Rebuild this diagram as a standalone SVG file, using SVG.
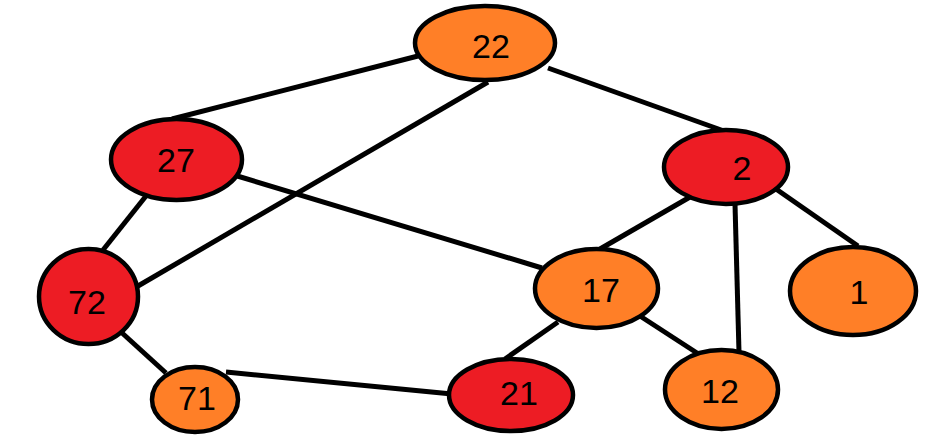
<svg xmlns="http://www.w3.org/2000/svg" width="940" height="440" viewBox="0 0 940 440">
<style>
.e{stroke:#000;stroke-width:5;stroke-linecap:butt}
.n{stroke:#000;stroke-width:4.5}
.o{fill:#FF7F27}
.r{fill:#ED1C24}
.t{font-family:"Liberation Sans",Arial,sans-serif;font-size:34px;fill:#000;text-anchor:middle}
</style>
<rect width="940" height="440" fill="#fff"/>
<g id="edges">
<line class="e" x1="418" y1="56" x2="172" y2="119"/>
<line class="e" x1="548" y1="68" x2="724" y2="131"/>
<line class="e" x1="488" y1="82" x2="138" y2="286"/>
<line class="e" x1="234" y1="175" x2="542" y2="268"/>
<line class="e" x1="146" y1="196" x2="103" y2="250"/>
<line class="e" x1="690" y1="197" x2="600" y2="249"/>
<line class="e" x1="735" y1="204" x2="739" y2="352"/>
<line class="e" x1="776" y1="189" x2="858" y2="246"/>
<line class="e" x1="558" y1="322" x2="505" y2="359"/>
<line class="e" x1="640" y1="316" x2="697" y2="353"/>
<line class="e" x1="121" y1="332" x2="166" y2="373"/>
<line class="e" x1="226" y1="372" x2="452" y2="394"/>
</g>
<g id="n22"><ellipse class="n o" cx="485" cy="43" rx="70" ry="37"/><text class="t" x="491" y="58">22</text></g>
<g id="n27"><ellipse class="n r" cx="176.5" cy="159.5" rx="65.5" ry="40.5"/><text class="t" x="176" y="172">27</text></g>
<g id="n2"><ellipse class="n r" cx="726" cy="167" rx="62" ry="37"/><text class="t" x="742" y="180">2</text></g>
<g id="n72"><ellipse class="n r" cx="88.5" cy="296.5" rx="49.5" ry="47.5"/><text class="t" x="87" y="314">72</text></g>
<g id="n17"><ellipse class="n o" cx="596.5" cy="288.5" rx="61.5" ry="39.5"/><text class="t" x="601" y="302">17</text></g>
<g id="n1"><ellipse class="n o" cx="853" cy="291" rx="63" ry="44"/><text class="t" x="859" y="304">1</text></g>
<g id="n71"><ellipse class="n o" cx="195" cy="399.5" rx="43" ry="32.5"/><text class="t" x="197" y="410">71</text></g>
<g id="n21"><ellipse class="n r" cx="511" cy="395" rx="62" ry="36"/><text class="t" x="519" y="405">21</text></g>
<g id="n12"><ellipse class="n o" cx="721.5" cy="389.5" rx="56.5" ry="39.5"/><text class="t" x="720" y="403">12</text></g>
</svg>
